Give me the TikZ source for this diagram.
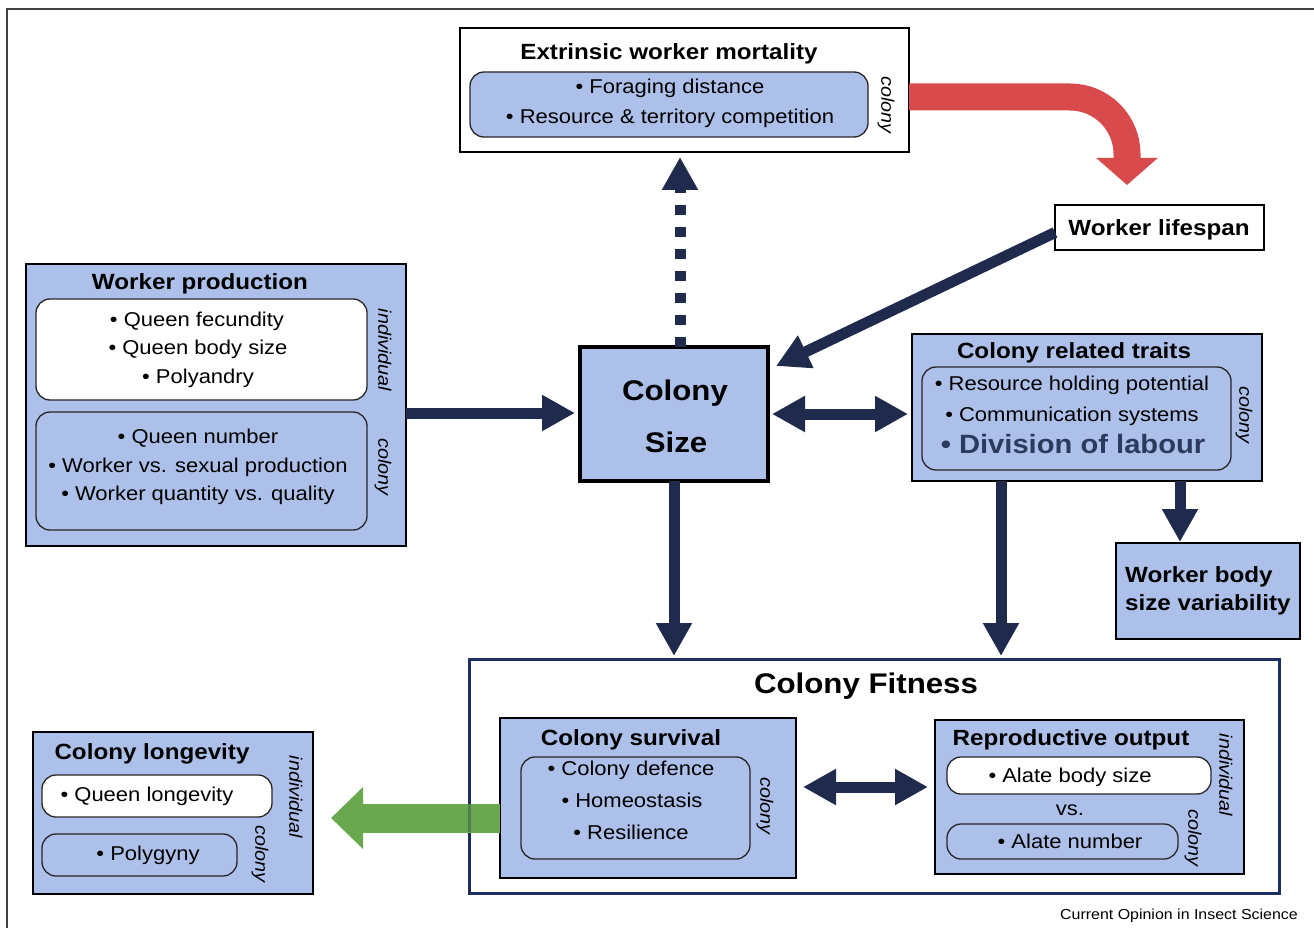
\documentclass[tikz,border=0pt]{standalone}
\usepackage{fontspec}
\setmainfont[FakeStretch=1.1]{Liberation Sans}
\usetikzlibrary{arrows.meta}
\definecolor{cblue}{HTML}{ADC0EA}
\definecolor{navy}{HTML}{1F2A4C}
\definecolor{cred}{HTML}{D94A4C}
\definecolor{cgreen}{HTML}{6AA84F}
\definecolor{divtext}{HTML}{2C3A5E}
\definecolor{fitborder}{HTML}{1E2E62}
\newcommand{\rectnode}[6]{%
  \node[#6, anchor=north west, minimum width={(#4-#2)*1pt}, minimum height={(#5-#3)*1pt}] (#1) at (#2,#3) {};}
\begin{document}
\begin{tikzpicture}[x=1pt,y=-1pt,
  obox/.style={draw=black, line width=2pt, fill=cblue, inner sep=0pt, outer sep=0pt},
  wbox/.style={draw=black, line width=2pt, fill=white, inner sep=0pt, outer sep=0pt},
  rin/.style={draw=black!85, line width=1.3pt, rounded corners=14pt, inner sep=0pt, outer sep=0pt},
  rinb/.style={rin, fill=cblue},
  rinw/.style={rin, fill=white},
  ttl/.style={font=\fontsize{22}{26}\selectfont\bfseries, inner sep=0pt, text height=15.8pt, text depth=0pt},
  body/.style={font=\fontsize{20}{24}\selectfont, inner sep=0pt, text height=14.3pt, text depth=0pt},
  big/.style={font=\fontsize{28.4}{32}\selectfont\bfseries, inner sep=0pt, text height=20.3pt, text depth=0pt},
  lvl/.style={font=\fontsize{18}{21}\selectfont\itshape, inner sep=0pt, rotate=-90, text height=13pt, text depth=3.8pt},
  arr/.style={draw=navy, line width=11pt, -{Triangle[width=34pt,length=33pt]}},
  darr/.style={draw=navy, line width=11pt, {Triangle[width=34pt,length=33pt]}-{Triangle[width=34pt,length=33pt]}},
]
\useasboundingbox (0,0) rectangle (1314,928);
\fill[white] (0,0) rectangle (1314,928);
% frame
\draw[line width=2pt, black!75] (7,928) -- (7,9.5) -- (1314,9.5);

% Extrinsic worker mortality
\rectnode{ewm}{460}{28}{909}{152}{wbox}
\rectnode{ewmin}{470}{72}{868}{137}{rinb}
\node[ttl] (ewmt) at (669,52) {Extrinsic worker mortality};
\node[body] (ewm1) at (670,86.5) {• Foraging distance};
\node[body] (ewm2) at (670,116) {• Resource \& territory competition};
\node[lvl] (ewml) at (886,105) {colony};

% Worker lifespan
\rectnode{wl}{1055}{205}{1264}{250}{wbox}
\node[ttl] (wlt) at (1159,228) {Worker lifespan};

% Worker production
\rectnode{wp}{26}{264}{406}{546}{obox}
\rectnode{wpi}{36}{299}{367}{400}{rinw}
\rectnode{wpc}{36}{412}{367}{530}{rinb}
\node[ttl] (wpt) at (200,282) {Worker production};
\node[body] (wp1) at (197,319) {• Queen fecundity};
\node[body] (wp2) at (198,347) {• Queen body size};
\node[body] (wp3) at (198,376) {• Polyandry};
\node[body] (wp4) at (198,436) {• Queen number};
\node[body] (wp5) at (198,465) {• Worker vs. sexual production};
\node[body] (wp6) at (198,493) {• Worker quantity vs. quality};
\node[lvl] (wpl1) at (383,350) {individual};
\node[lvl] (wpl2) at (383,467) {colony};

% Colony size
\node[obox, line width=4pt, minimum width=188pt, minimum height=134pt] (cs) at (674,414) {};
\node[big] (cs1) at (675,390) {Colony};
\node[big] (cs2) at (676,442) {Size};

% Colony related traits
\rectnode{crt}{912}{334}{1262}{481}{obox}
\rectnode{crti}{922}{367}{1231}{470}{rinb}
\node[ttl] (crtt) at (1074,351) {Colony related traits};
\node[body] (crt1) at (1072,383.5) {• Resource holding potential};
\node[body] (crt2) at (1072,414) {• Communication systems};
\node[font=\fontsize{26.5}{30}\selectfont\bfseries, text=divtext, inner sep=0pt, text height=19pt, text depth=0pt] (crt3) at (1073,444) {• Division of labour};
\node[lvl] (crtl) at (1244,415) {colony};

% Worker body size variability
\rectnode{wbsv}{1116}{543}{1300}{639}{obox}
\node[ttl, anchor=west] (wbsv1) at (1125,575) {Worker body};
\node[ttl, anchor=west] (wbsv2) at (1125,603) {size variability};

% Colony fitness
\node[draw=fitborder, line width=3pt, fill=white, inner sep=0pt, outer sep=0pt, anchor=north west, minimum width=810pt, minimum height=234pt] (fit) at (469,659) {};
\node[big] (fitt) at (866,683) {Colony Fitness};

% Colony survival
\rectnode{csv}{500}{718}{796}{878}{obox}
\rectnode{csvi}{521}{757}{750}{859}{rinb}
\node[ttl] (csvt) at (631,738) {Colony survival};
\node[body] (csv1) at (631,768) {• Colony defence};
\node[body] (csv2) at (632,800) {• Homeostasis};
\node[body] (csv3) at (631,832) {• Resilience};
\node[lvl] (csvl) at (765,806) {colony};

% Reproductive output
\rectnode{ro}{935}{720}{1244}{874}{obox}
\rectnode{roi}{947}{757}{1211}{794}{rinw}
\rectnode{roc}{947}{824}{1178}{859}{rinb}
\node[ttl] (rot) at (1071,738) {Reproductive output};
\node[body] (ro1) at (1070,775) {• Alate body size};
\node[body] (ro2) at (1070,808) {vs.};
\node[body] (ro3) at (1070,841) {• Alate number};
\node[lvl] (rol1) at (1224,775) {individual};
\node[lvl] (rol2) at (1193,838) {colony};

% Colony longevity
\rectnode{cl}{33}{732}{313}{894}{obox}
\rectnode{cli}{42}{775}{272}{817}{rinw}
\rectnode{clc}{42}{834}{237}{876}{rinb}
\node[ttl] (clt) at (152,752) {Colony longevity};
\node[body] (cl1) at (147,794) {• Queen longevity};
\node[body] (cl2) at (148,853) {• Polygyny};
\node[lvl] (cll1) at (294,797) {individual};
\node[lvl] (cll2) at (260,854) {colony};

% footer
\node[font=\fontsize{14.5}{17}\selectfont, anchor=east, inner sep=0pt, text height=10.4pt, text depth=0pt] (src) at (1298,914) {Current Opinion in Insect Science};

% connectors
\coordinate (t1) at (575,413);
\draw[arr] (wp.east |- t1) -- (t1);
\coordinate (t2) at (680,157);
\draw[arr, dash pattern=on 10pt off 12pt] (cs.north -| t2) -- (t2);
\coordinate (t3) at (776,366);
\draw[arr] ([yshift=-5pt]wl.west) -- (t3);
\draw[darr, shorten <=4pt, shorten >=4pt] (cs.east) -- (crt.west |- cs.east);
\coordinate (t5) at (1180,542);
\draw[arr] (crt.south -| t5) -- (t5);
\draw[arr, shorten >=3pt] (cs.south) -- (cs.south |- fit.north);
\coordinate (t6) at (1001,656);
\draw[arr] (crt.south -| t6) -- (t6);
\coordinate (t7) at (866,787);
\draw[darr, shorten <=7pt, shorten >=7pt] (csv.east |- t7) -- (ro.west |- t7);
\coordinate (t9) at (331,818);
\draw[cgreen, line width=29pt, -{Triangle[width=60pt,length=32pt]}] (csv.west |- t9) -- (t9);
\draw[fitborder, opacity=0.35, line width=3pt] (fit.west |- 0,803) -- (fit.west |- 0,832);
\draw[cred, line width=27pt, rounded corners=57pt, -{Triangle[width=60pt,length=27pt]}] ([yshift=-7pt]ewm.east) -- (1127,97) -- (1127,185);
\end{tikzpicture}
\end{document}
